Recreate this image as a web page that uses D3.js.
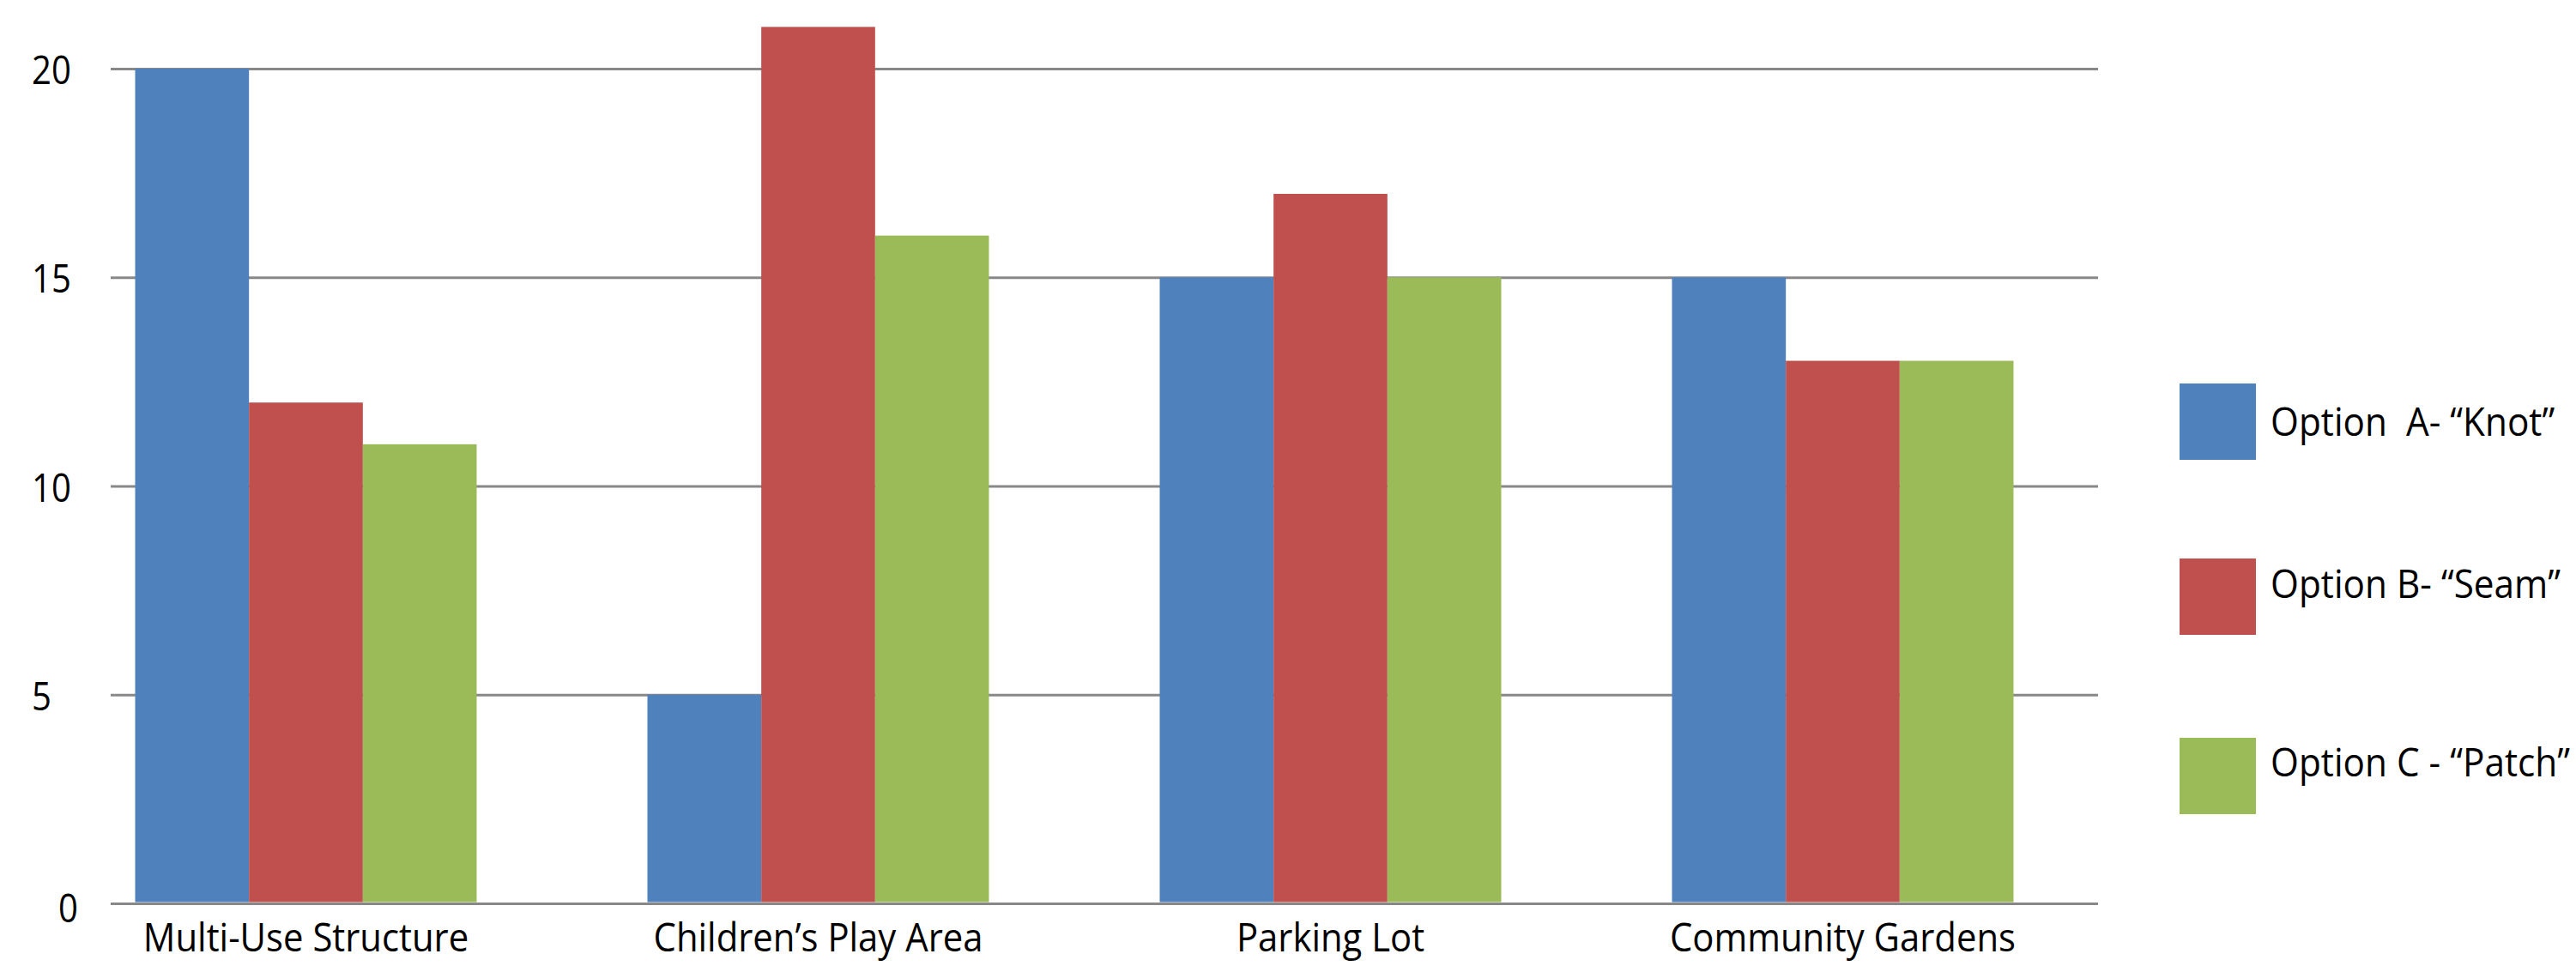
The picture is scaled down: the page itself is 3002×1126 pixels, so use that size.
<!DOCTYPE html>
<html><head><meta charset="utf-8">
<script src="https://cdn.jsdelivr.net/npm/d3@7"></script>
<style>
body{margin:0;background:#fff}
svg{display:block}
text{font-family:"Open Sans",sans-serif;fill:#000}
</style>
</head><body>
<svg id="chart" width="3002" height="1126"></svg>
<script>
// ---- data ----
const categories = ["Multi-Use Structure", "Children\u2019s Play Area", "Parking Lot", "Community Gardens"];
const seriesNames = ["Option  A- \u201CKnot\u201D", "Option B- \u201CSeam\u201D", "Option C - \u201CPatch\u201D"];
const optionA = [20, 5, 15, 15];
const optionB = [12, 21, 17, 13];
const optionC = [11, 16, 15, 13];
const seriesColors = ["#4F81BD", "#C0504D", "#9BBB59"];
const yTicks = [0, 5, 10, 15, 20];

// ---- layout ----
const gridX0 = 129, gridX1 = 2445;
const condense = 0.89;
const catCondense = 0.93;
const svg = d3.select("#chart");

const series = [optionA, optionB, optionC];
const rows = categories.map((c, i) => ({cat: c, vals: series.map((s, k) => ({k, v: s[i]}))}));

const y = d3.scaleLinear().domain([0, 20]).range([1053, 80]);
const x0 = d3.scaleBand().domain(categories).range([58, 2446]).paddingInner(1/3).paddingOuter(1/6);
const x1 = d3.scaleBand().domain(d3.range(seriesNames.length)).range([0, x0.bandwidth()]).padding(0);

// gridlines
const grid = svg.append("g").attr("transform", `translate(${gridX0},0)`)
  .call(d3.axisLeft(y).tickValues(yTicks).tickSize(-(gridX1 - gridX0)).tickFormat(""));
grid.select(".domain").remove();
grid.selectAll(".tick line").attr("stroke", "#888").attr("stroke-width", 3);

// y tick labels
const yLab = svg.append("g");
yLab.selectAll("g").data(yTicks).join("g")
  .attr("transform", d => d === 0
      ? `translate(91,${y(d) + 22}) scale(${condense},1)`
      : `translate(37,${y(d) + 18}) scale(${condense},1)`)
  .append("text")
  .attr("text-anchor", d => d === 0 ? "end" : "start")
  .attr("font-size", 45)
  .text(d => d);

// bars
const groups = svg.append("g").selectAll("g").data(rows).join("g")
  .attr("transform", d => `translate(${x0(d.cat)},0)`);
groups.selectAll("rect").data(d => d.vals).join("rect")
  .attr("x", d => x1(d.k))
  .attr("width", x1.bandwidth())
  .attr("y", d => y(d.v))
  .attr("height", d => y(0) - 1.5 - y(d.v))
  .attr("fill", d => seriesColors[d.k]);

// category labels
svg.append("g").selectAll("g").data(categories).join("g")
  .attr("transform", d => `translate(${x0(d) + x0.bandwidth() / 2},1109) scale(${catCondense},1)`)
  .append("text")
  .attr("text-anchor", "middle")
  .attr("font-size", 45)
  .text(d => d);

// legend
const legSwatchY = [447, 651, 860];
const legBaseline = [508, 697, 905];
const leg = svg.append("g");
seriesNames.forEach((name, i) => {
  leg.append("rect").attr("x", 2540).attr("y", legSwatchY[i]).attr("width", 89).attr("height", 89)
    .attr("fill", seriesColors[i]);
  leg.append("g").attr("transform", `translate(2646,${legBaseline[i]}) scale(0.92,1)`)
    .append("text").attr("font-size", 46).style("white-space", "pre").text(name);
});
</script>
</body></html>
